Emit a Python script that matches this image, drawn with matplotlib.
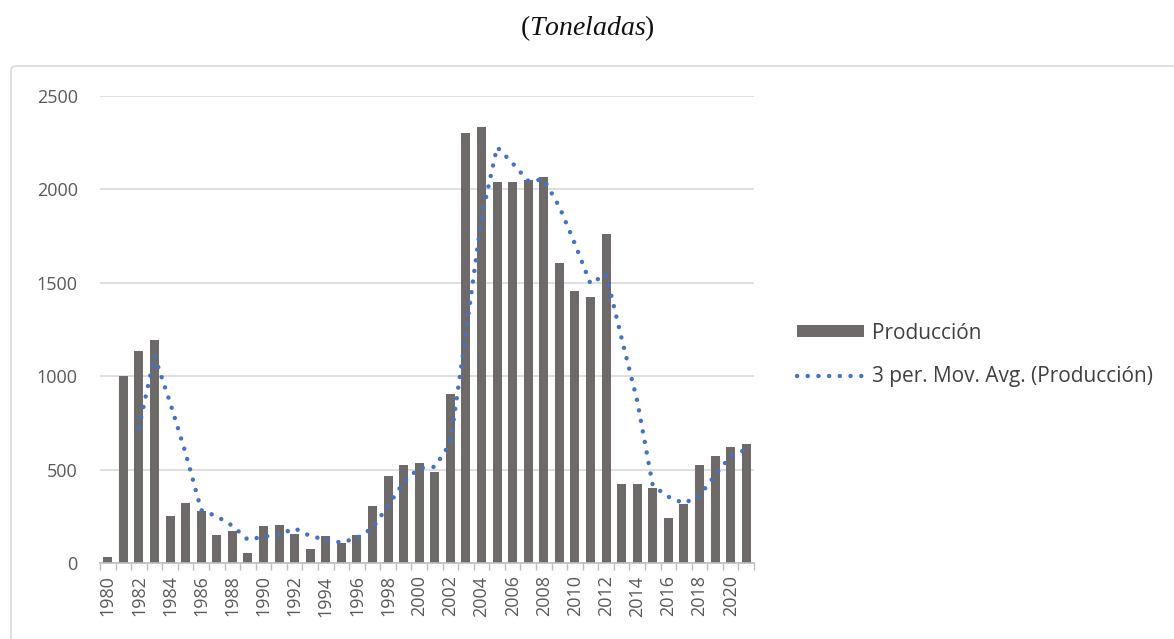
import numpy as np
import pandas as pd
import matplotlib
matplotlib.use("Agg")
import matplotlib.pyplot as plt
from matplotlib.patches import FancyBboxPatch, Patch
from matplotlib.lines import Line2D

# Production by year (tonnes)
years = list(range(1980, 2022))
produccion = [33, 1000, 1136, 1192, 249, 322, 278, 149, 172, 52,
              199, 203, 155, 75, 146, 107, 148, 307, 464, 527,
              533, 485, 906, 2301, 2335, 2042, 2042, 2052, 2065, 1605,
              1456, 1423, 1762, 421, 421, 400, 243, 316, 523, 571,
              619, 636]
yticks = [0, 500, 1000, 1500, 2000, 2500]

bar_color = "#6e6a6a"
line_color = "#4472c4"
label_color = "#595959"
dots = (0, (0.01, 2.4))

plt.rcParams["font.family"] = ["Open Sans", "DejaVu Sans"]
plt.rcParams["mathtext.fontset"] = "custom"
plt.rcParams["mathtext.rm"] = "Liberation Serif"
plt.rcParams["mathtext.it"] = "Liberation Serif:italic"

fig = plt.figure(figsize=(11.74, 6.39), dpi=100)

# light rounded chart frame, running off the right and bottom edges
frame = FancyBboxPatch((11 / 1174, -0.1), 1.2, 1.1 - 66 / 639,
                       boxstyle="round,pad=0,rounding_size=0.006",
                       transform=fig.transFigure, facecolor="none",
                       edgecolor="#d9d9d9", linewidth=1.2, zorder=-1)
fig.patches.append(frame)

fig.text(0.5, 1 - 28 / 639, r"$(\mathit{Toneladas})$", ha="center", va="center",
         fontsize=20, color="#111111")

ax = fig.add_axes([100 / 1174, 1 - 563 / 639, 654 / 1174, 467 / 639])
ax.set_facecolor("none")

x = np.arange(len(years))
ax.bar(x, produccion, width=0.58, color=bar_color, zorder=2)

mov_avg = pd.Series(produccion).rolling(3).mean()
ax.plot(x, mov_avg, color=line_color, linewidth=3.2,
        linestyle=dots, dash_capstyle="round", zorder=3)

ax.set_xlim(-0.5, len(years) - 0.5)
ax.set_ylim(0, 2500)
ax.set_yticks(yticks)
ax.set_yticklabels([str(v) for v in yticks])
ax.yaxis.grid(True, color="#d9d9d9", linewidth=1.2, zorder=0)
ax.set_axisbelow(True)

ax.set_xticks(x[::2])
ax.set_xticklabels([str(y) for y in years[::2]], rotation=90)
ax.set_xticks(np.arange(len(years) + 1) - 0.5, minor=True)
ax.tick_params(axis="x", which="major", length=0, pad=9, labelsize=13,
               labelcolor=label_color)
ax.tick_params(axis="x", which="minor", length=5, color="#bfbfbf", width=1)
ax.tick_params(axis="y", length=0, pad=16, labelsize=13, labelcolor=label_color)

for side in ["top", "right", "left"]:
    ax.spines[side].set_visible(False)
ax.spines["bottom"].set_color("#bfbfbf")
ax.spines["bottom"].set_linewidth(1.2)

handles = [Patch(facecolor=bar_color, edgecolor="none"),
           Line2D([0], [0], color=line_color, linewidth=3.2,
                  linestyle=dots, dash_capstyle="round")]
fig.legend(handles, ["Producción", "3 per. Mov. Avg. (Producción)"],
           loc="center left", bbox_to_anchor=(797 / 1174, 1 - 355 / 639),
           frameon=False, fontsize=15, labelcolor="#404040",
           handlelength=3.2, handleheight=0.5, handletextpad=0.4,
           labelspacing=1.1, borderpad=0, borderaxespad=0)

fig.savefig("out.png", dpi=100)
